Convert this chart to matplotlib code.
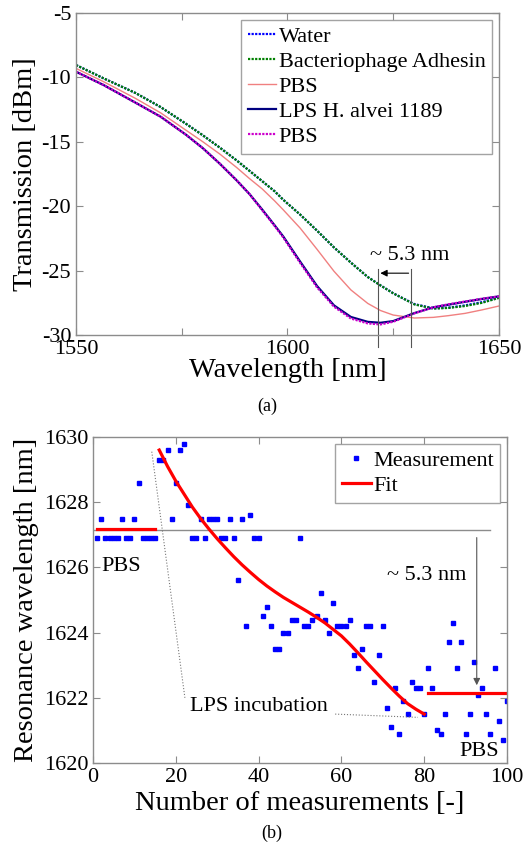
import numpy as np
import matplotlib
matplotlib.use("Agg")
import matplotlib.pyplot as plt

plt.rcParams['font.family'] = ['Liberation Serif', 'DejaVu Serif']
plt.rcParams['axes.unicode_minus'] = False

# --- (a) espectros de transmision ---
wl = [1550, 1556.5, 1564, 1570, 1576, 1580, 1584, 1588, 1591, 1594, 1597, 1599, 1603, 1607,
      1611, 1615, 1619, 1622, 1625, 1630, 1634.5, 1638, 1642, 1646, 1650]
t_water = [-9.04, -10.07, -11.2, -12.3, -13.6, -14.5, -15.45, -16.45, -17.25, -18.05, -18.85, -19.5,
           -20.65, -21.9, -23.2, -24.38, -25.5, -26.15, -26.76, -27.6, -27.93, -27.88, -27.7,
           -27.45, -27.1]
t_phage = [-9.04, -10.07, -11.2, -12.3, -13.6, -14.5, -15.45, -16.45, -17.25, -18.05, -18.85, -19.5,
           -20.65, -21.9, -23.2, -24.38, -25.5, -26.15, -26.76, -27.62, -27.95, -27.9, -27.75,
           -27.5, -27.12]
t_pbs1 = [-9.3, -10.33, -11.62, -12.75, -14.1, -15.0, -15.95, -17.0, -17.85, -18.65, -19.6, -20.28,
          -21.7, -23.35, -25.05, -26.5, -27.55, -28.1, -28.45, -28.68, -28.63, -28.5, -28.32,
          -28.05, -27.75]
t_lps = [-9.56, -10.59, -11.95, -13.05, -14.45, -15.5, -16.7, -18.0, -19.05, -20.25, -21.5, -22.35,
         -24.3, -26.2, -27.7, -28.6, -28.98, -29.05, -28.92, -28.3, -27.85, -27.65, -27.42,
         -27.2, -27.0]
t_pbs2 = [-9.56, -10.59, -11.95, -13.05, -14.45, -15.5, -16.7, -18.0, -19.05, -20.3, -21.55, -22.42,
          -24.4, -26.3, -27.8, -28.72, -29.1, -29.18, -28.97, -28.32, -27.85, -27.62, -27.4,
          -27.18, -27.0]

# --- (b) longitud de onda de resonancia ---
n_meas = list(range(1, 101))
res_wl = [1626.9, 1627.5, 1626.9, 1626.9, 1626.9, 1626.9, 1627.5, 1626.9, 1626.9, 1627.5,
          1628.6, 1626.9, 1626.9, 1626.9, 1626.9, 1629.3, 1629.3, 1629.6, 1627.5, 1628.6,
          1629.6, 1629.8, 1627.9, 1626.9, 1626.9, 1627.5, 1626.9, 1627.5, 1627.5, 1627.5,
          1626.9, 1626.9, 1627.5, 1626.9, 1625.6, 1627.5, 1624.2, 1627.6, 1626.9, 1626.9,
          1624.5, 1624.8, 1624.2, 1623.5, 1623.5, 1624.0, 1624.0, 1624.4, 1624.4, 1626.9,
          1624.2, 1624.2, 1624.4, 1624.5, 1625.2, 1624.4, 1624.0, 1624.9, 1624.2, 1624.2,
          1624.2, 1624.4, 1623.3, 1622.9, 1623.5, 1624.2, 1624.2, 1622.5, 1623.3, 1624.2,
          1621.7, 1621.1, 1622.3, 1620.9, 1621.9, 1621.5, 1622.5, 1622.3, 1622.3, 1621.5,
          1622.9, 1622.3, 1621.0, 1620.9, 1621.5, 1623.7, 1624.3, 1622.9, 1623.7, 1620.9,
          1621.5, 1623.1, 1622.1, 1622.3, 1621.5, 1620.9, 1622.9, 1621.3, 1620.7, 1621.9]
fit_n = [16, 18, 20, 22, 24, 26, 28, 30, 32, 34, 36, 38, 40, 42, 44, 46, 48, 50, 52, 54, 56,
         58, 60, 62, 64, 66, 68, 70, 72, 74, 76, 78, 80]
fit_wl = [1629.6, 1629.1, 1628.65, 1628.25, 1627.85, 1627.5, 1627.18, 1626.88, 1626.6, 1626.33,
          1626.08, 1625.85, 1625.63, 1625.43, 1625.25, 1625.08, 1624.93, 1624.78, 1624.63,
          1624.47, 1624.3, 1624.1, 1623.9, 1623.65, 1623.38, 1623.1, 1622.83, 1622.56, 1622.3,
          1622.05, 1621.82, 1621.65, 1621.5]
pbs_before_n = [1, 15]
pbs_before_wl = [1627.19, 1627.19]
pbs_after_n = [81, 100]
pbs_after_wl = [1622.15, 1622.15]

grey = '#8c8c8c'
fs = 16

fig = plt.figure(figsize=(5.26, 8.43), dpi=100)

def estilo(ax):
    for s in ax.spines.values():
        s.set_color(grey)
        s.set_linewidth(1.0)
    ax.tick_params(direction='in', top=True, right=True, length=5, color=grey,
                   labelsize=fs, labelcolor='black')

# panel (a)
ax1 = fig.add_axes([0.1445, 0.6026, 0.804, 0.382])
ax1.plot(wl, t_water, color='#0000ff', lw=1.6, ls=(0, (1, 0.6)), label='Water')
ax1.plot(wl, t_phage, color='#008000', lw=1.6, ls=(0, (1, 0.6)), label='Bacteriophage Adhesin')
ax1.plot(wl, t_pbs1, color='#f08080', lw=1.0, label='PBS')
ax1.plot(wl, t_lps, color='#000080', lw=1.6, label='LPS H. alvei 1189')
ax1.plot(wl, t_pbs2, color='#cc00cc', lw=1.6, ls=(0, (1, 0.6)), label='PBS')
ax1.set_xlim(1550, 1650)
ax1.set_ylim(-30, -5)
ax1.set_xticks([1550, 1575, 1600, 1625, 1650])
ax1.set_xticklabels(['1550', '', '1600', '', '1650'])
ax1.set_yticks([-30, -25, -20, -15, -10, -5])
estilo(ax1)
ax1.set_xlabel('Wavelength [nm]', fontsize=20.5)
ax1.set_ylabel('Transmission [dBm]', fontsize=20.5)
ax1.xaxis.set_label_coords(0.5, -0.07)
ax1.yaxis.set_label_coords(-0.09, 0.5)
leg1 = ax1.legend(loc='upper right', fontsize=fs, handlelength=1.3, handletextpad=0.1,
                  labelspacing=0.2, borderaxespad=0.3, borderpad=0.3, fancybox=False)
leg1.get_frame().set_edgecolor(grey)
# flechas de desplazamiento
for xv in [1621.3, 1629.3]:
    ax1.plot([xv, xv], [-24.9, -30.9], color='#555555', lw=0.8, clip_on=False)
ax1.annotate('', xy=(1621.3, -25.2), xytext=(1629.3, -25.2),
             arrowprops=dict(arrowstyle='-|>', color='black', lw=0.8, mutation_scale=10))
ax1.text(1629.0, -23.8, '~ 5.3 nm', fontsize=fs, ha='center', va='center')
fig.text(267 / 526, 1 - 406 / 843, '(a)', fontsize=13, ha='center', va='center')

# panel (b)
ax2 = fig.add_axes([0.1768, 0.0949, 0.787, 0.3867])
ax2.plot([0, 96], [1627.15, 1627.15], color=grey, lw=1.0)
ax2.plot(n_meas, res_wl, ls='none', marker='s', ms=3.4, color='#0000ff', mec='#0000ff',
         label='Measurement')
ax2.plot(fit_n, fit_wl, color='#ff0000', lw=2.3, label='Fit')
ax2.plot(pbs_before_n, pbs_before_wl, color='#ff0000', lw=2.3)
ax2.plot(pbs_after_n, pbs_after_wl, color='#ff0000', lw=2.3)
ax2.annotate('', xy=(92.7, 1622.3), xytext=(92.7, 1627.0),
             arrowprops=dict(arrowstyle='-|>', color='#555555', lw=0.8, mutation_scale=10))
ax2.text(80.5, 1625.75, '~ 5.3 nm', fontsize=fs, ha='center', va='center')
ax2.plot([14.2, 22.2], [1629.55, 1622.0], color='#777777', lw=0.8, ls=':')
ax2.plot([58.5, 78.5], [1621.5, 1621.4], color='#777777', lw=0.8, ls=':')
ax2.text(23.4, 1621.73, 'LPS incubation', fontsize=fs, ha='left', va='center')
ax2.text(2.1, 1626.04, 'PBS', fontsize=fs, ha='left', va='center')
ax2.text(88.6, 1620.35, 'PBS', fontsize=fs, ha='left', va='center')
ax2.set_xlim(0, 100)
ax2.set_ylim(1620, 1630)
ax2.set_xticks(range(0, 101, 20))
ax2.set_yticks(range(1620, 1631, 2))
estilo(ax2)
ax2.set_xlabel('Number of measurements [-]', fontsize=20.5)
ax2.set_ylabel('Resonance wavelength [nm]', fontsize=20.5)
ax2.xaxis.set_label_coords(0.5, -0.085)
ax2.yaxis.set_label_coords(-0.13, 0.5)
leg2 = ax2.legend(loc='upper right', fontsize=fs, handlelength=1.3, handletextpad=0.1,
                  labelspacing=0.2, borderaxespad=0.3, borderpad=0.3, fancybox=False,
                  markerscale=0.8)
leg2.get_frame().set_edgecolor(grey)
fig.text(272 / 526, 1 - 833 / 843, '(b)', fontsize=13, ha='center', va='center')

fig.savefig('out.png', dpi=100)
